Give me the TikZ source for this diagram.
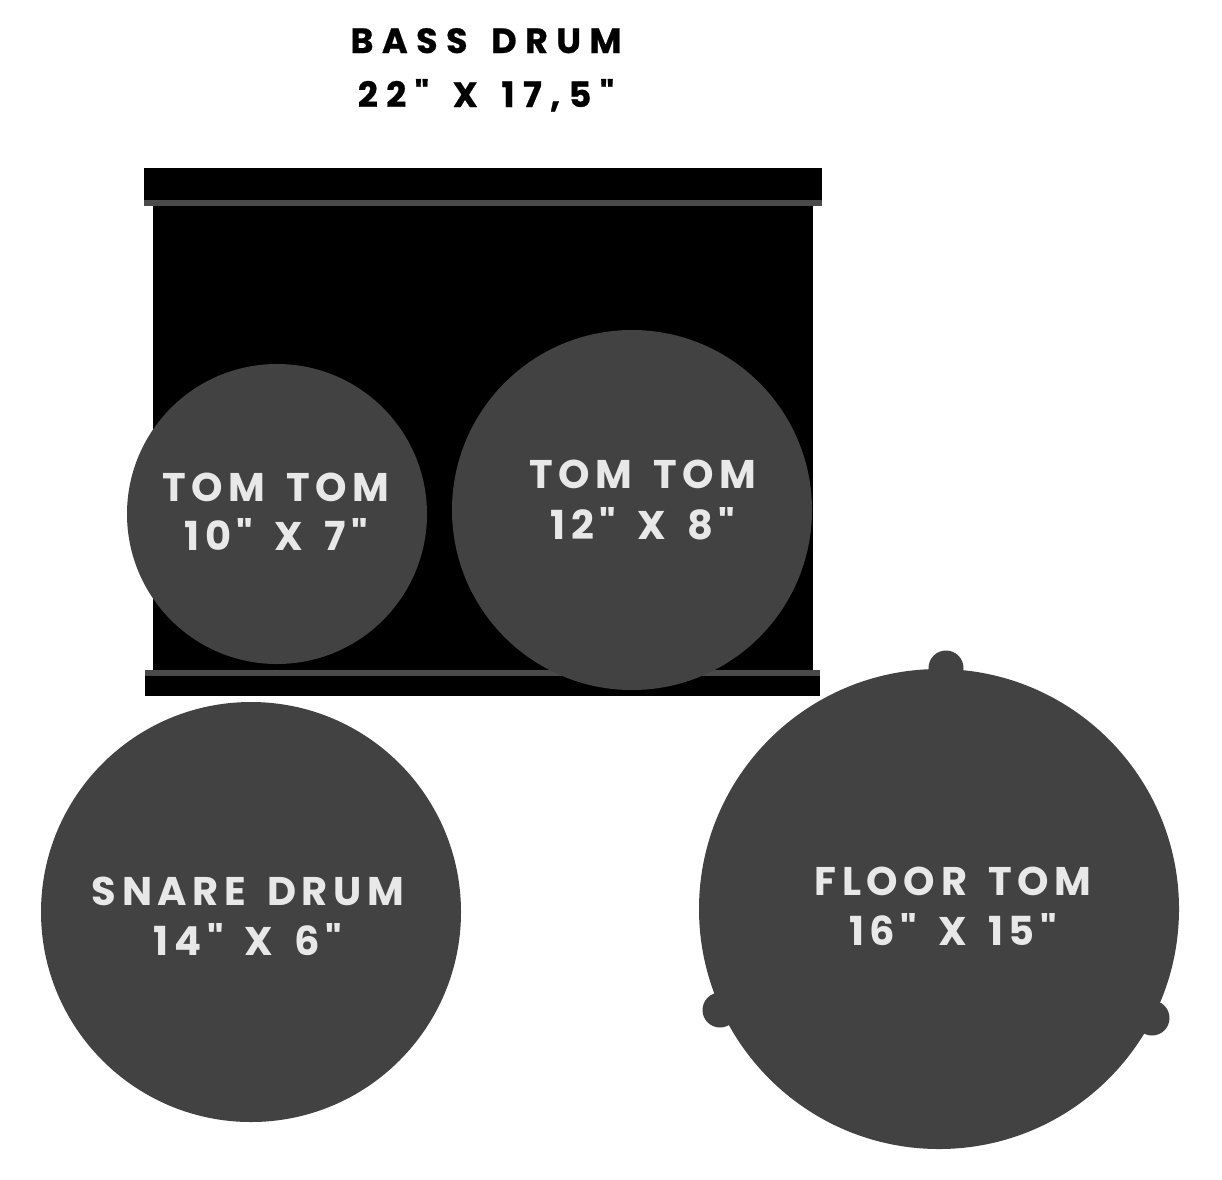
\documentclass[tikz,border=0pt]{standalone}
\usepackage{fontspec}
\newfontfamily\labfont{Poppins}[LetterSpace=14,WordSpace=1.5]
\newfontfamily\titlefont{Poppins}[LetterSpace=24,WordSpace=1.5,FakeBold=0.6]
\definecolor{drumgray}{HTML}{424242}
\definecolor{rimgray}{HTML}{4A4A4A}
\definecolor{labgray}{HTML}{E8E8E8}
\begin{document}
\begin{tikzpicture}[x=1pt,y=-1pt,
  drum/.style={fill=drumgray,draw=none},
  lab/.style={text=labgray,font=\labfont\bfseries\fontsize{40}{48}\selectfont,inner sep=0pt,anchor=base},
  title/.style={text=black,font=\titlefont\bfseries\fontsize{35}{40}\selectfont,inner sep=0pt,anchor=base}]
\useasboundingbox[fill=white] (0,0) rectangle (1222,1179);
% bass drum
\fill[black] (144,168) rectangle (822,200);
\fill[rimgray] (144,200) rectangle (822,206);
\fill[black] (153,206) rectangle (813,670);
\fill[rimgray] (145,670) rectangle (820,676);
\fill[black] (145,676) rectangle (820,696);
% toms
\fill[drum] (277,514) circle (150);
\fill[drum] (632,510) circle (180);
% snare
\fill[drum] (251,912) circle (210);
% floor tom
\fill[drum] (946,668) circle (17.5);
\fill[drum] (720,1010) circle (17.5);
\fill[drum] (1152,1018) circle (17.5);
\fill[drum] (939,909) circle (240);
% labels
\node[title] (bassA) at (486,53) {BASS DRUM};
\node[title] (bassB) at (486,107) {22" X 17,5"};
\node[lab] (tomAa) at (276,501) {TOM TOM};
\node[lab] (tomAb) at (276,550) {10" X 7"};
\node[lab] (tomBa) at (643,488) {TOM TOM};
\node[lab] (tomBb) at (643,539) {12" X 8"};
\node[lab] (snA) at (248,905) {SNARE DRUM};
\node[lab] (snB) at (248,955) {14" X 6"};
\node[lab] (flA) at (953,895) {FLOOR TOM};
\node[lab] (flB) at (953,945) {16" X 15"};
\end{tikzpicture}
\end{document}
